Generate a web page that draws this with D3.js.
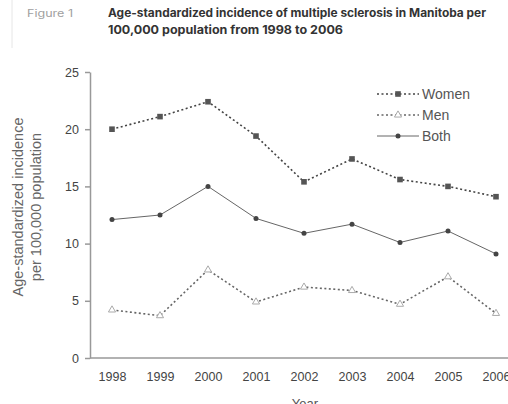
<!DOCTYPE html>
<html>
<head>
<meta charset="utf-8">
<script src="https://cdn.jsdelivr.net/npm/d3@7"></script>
<style>
  body { margin: 0; background: #fff; }
  .tick text { font-family: "Liberation Sans", Arial, sans-serif; font-size: 12.5px; fill: #444; }
</style>
</head>
<body>
<div id="chart"></div>
<script>
const years = [1998, 1999, 2000, 2001, 2002, 2003, 2004, 2005, 2006];
const women = [20.0, 21.1, 22.4, 19.4, 15.4, 17.4, 15.6, 15.0, 14.1];
const men = [4.2, 3.7, 7.7, 4.9, 6.2, 5.9, 4.7, 7.1, 3.9];
const both = [12.1, 12.5, 15.0, 12.2, 10.9, 11.7, 10.1, 11.1, 9.1];
const yTicks = [0, 5, 10, 15, 20, 25];

const width = 508, height = 404;
const margin = { top: 72, bottom: 46, left: 90 };

const svg = d3.select("#chart").append("svg")
  .attr("width", width)
  .attr("height", height);

// Header
svg.append("line")
  .attr("x1", 12).attr("x2", 12).attr("y1", 0).attr("y2", 48)
  .attr("stroke", "#e6e6e6");

svg.append("text")
  .attr("x", 27).attr("y", 17)
  .attr("font-family", "Inter, 'Open Sans', sans-serif")
  .attr("font-size", 10)
  .attr("fill", "#a0a0a0")
  .attr("textLength", 46)
  .attr("lengthAdjust", "spacingAndGlyphs")
  .text("Figure 1");

const titleLines = [
  { text: "Age-standardized incidence of multiple sclerosis in Manitoba per", len: 378 },
  { text: "100,000 population from 1998 to 2006", len: 235 }
];
titleLines.forEach((t, i) => {
  svg.append("text")
    .attr("x", 108).attr("y", 17 + i * 17)
    .attr("font-family", "Inter, 'Open Sans', sans-serif")
    .attr("font-size", 11.5)
    .attr("font-weight", "bold")
    .attr("fill", "#333")
    .attr("textLength", t.len)
    .attr("lengthAdjust", "spacingAndGlyphs")
    .text(t.text);
});

// Scales
const x = d3.scaleLinear()
  .domain([1998, 2006])
  .range([112, 496]);
const y = d3.scaleLinear()
  .domain([0, 25])
  .range([height - margin.bottom, margin.top]);

// Axes
const yAxis = d3.axisLeft(y).tickValues(yTicks).tickSize(5).tickPadding(6).tickSizeOuter(0);
const yg = svg.append("g")
  .attr("transform", `translate(${margin.left},0)`)
  .call(yAxis);
yg.select(".domain").attr("stroke", "#999").attr("stroke-width", 1.5);
yg.selectAll(".tick line").attr("stroke", "#999").attr("stroke-width", 1.5);

const xAxis = d3.axisBottom(x).tickValues(years).tickFormat(d3.format("d")).tickSize(0).tickPadding(14);
const xg = svg.append("g")
  .attr("transform", `translate(0,${y(0)})`)
  .call(xAxis);
xg.select(".domain").remove();
xg.append("line")
  .attr("x1", margin.left).attr("x2", width)
  .attr("stroke", "#999").attr("stroke-width", 1.5);

// Axis labels
const yl = svg.append("text")
  .attr("transform", `translate(0,207) rotate(-90)`)
  .attr("text-anchor", "middle")
  .attr("font-family", "'Liberation Sans', Arial, sans-serif")
  .attr("font-size", 14.5)
  .attr("fill", "#666");
yl.append("tspan").attr("x", 0).attr("y", 23).text("Age-standardized incidence");
yl.append("tspan").attr("x", 0).attr("y", 41).text("per 100,000 population");

svg.append("text")
  .attr("x", 305).attr("y", 408)
  .attr("text-anchor", "middle")
  .attr("font-family", "'Liberation Sans', Arial, sans-serif")
  .attr("font-size", 13)
  .attr("fill", "#555")
  .text("Year");

// Series
const series = [
  { name: "Women", values: women, color: "#444", dash: "2,2.5", width: 1.6, marker: "square" },
  { name: "Men", values: men, color: "#666", dash: "2,2.5", width: 1.6, marker: "triangle" },
  { name: "Both", values: both, color: "#666", dash: null, width: 1, marker: "circle" }
];

const line = d3.line()
  .x((d, i) => x(years[i]))
  .y(d => y(d));

function drawMarker(g, type, cx, cy) {
  if (type === "square") {
    g.append("rect").attr("x", cx - 2.8).attr("y", cy - 2.8).attr("width", 5.6).attr("height", 5.6)
      .attr("fill", "#555");
  } else if (type === "triangle") {
    g.append("path")
      .attr("d", d3.symbol().type(d3.symbolTriangle).size(22)())
      .attr("transform", `translate(${cx},${cy})`)
      .attr("fill", "#fff").attr("stroke", "#aaa").attr("stroke-width", 1);
  } else {
    g.append("circle").attr("cx", cx).attr("cy", cy).attr("r", 2.5).attr("fill", "#444");
  }
}

series.forEach(s => {
  const g = svg.append("g");
  g.append("path")
    .datum(s.values)
    .attr("d", line)
    .attr("fill", "none")
    .attr("stroke", s.color)
    .attr("stroke-width", s.width)
    .attr("stroke-dasharray", s.dash);
  s.values.forEach((v, i) => drawMarker(g, s.marker, x(years[i]), y(v)));
});

// Legend
const legend = svg.append("g").attr("transform", "translate(377,94)");
series.forEach((s, i) => {
  const row = legend.append("g").attr("transform", `translate(0,${i * 21})`);
  row.append("line")
    .attr("x1", 0).attr("x2", 42)
    .attr("stroke", s.color)
    .attr("stroke-width", s.width)
    .attr("stroke-dasharray", s.dash);
  drawMarker(row, s.marker, 21, 0);
  row.append("text")
    .attr("x", 45).attr("y", 5)
    .attr("font-family", "'Liberation Sans', Arial, sans-serif")
    .attr("font-size", 14)
    .attr("fill", "#555")
    .text(s.name);
});
</script>
</body>
</html>
